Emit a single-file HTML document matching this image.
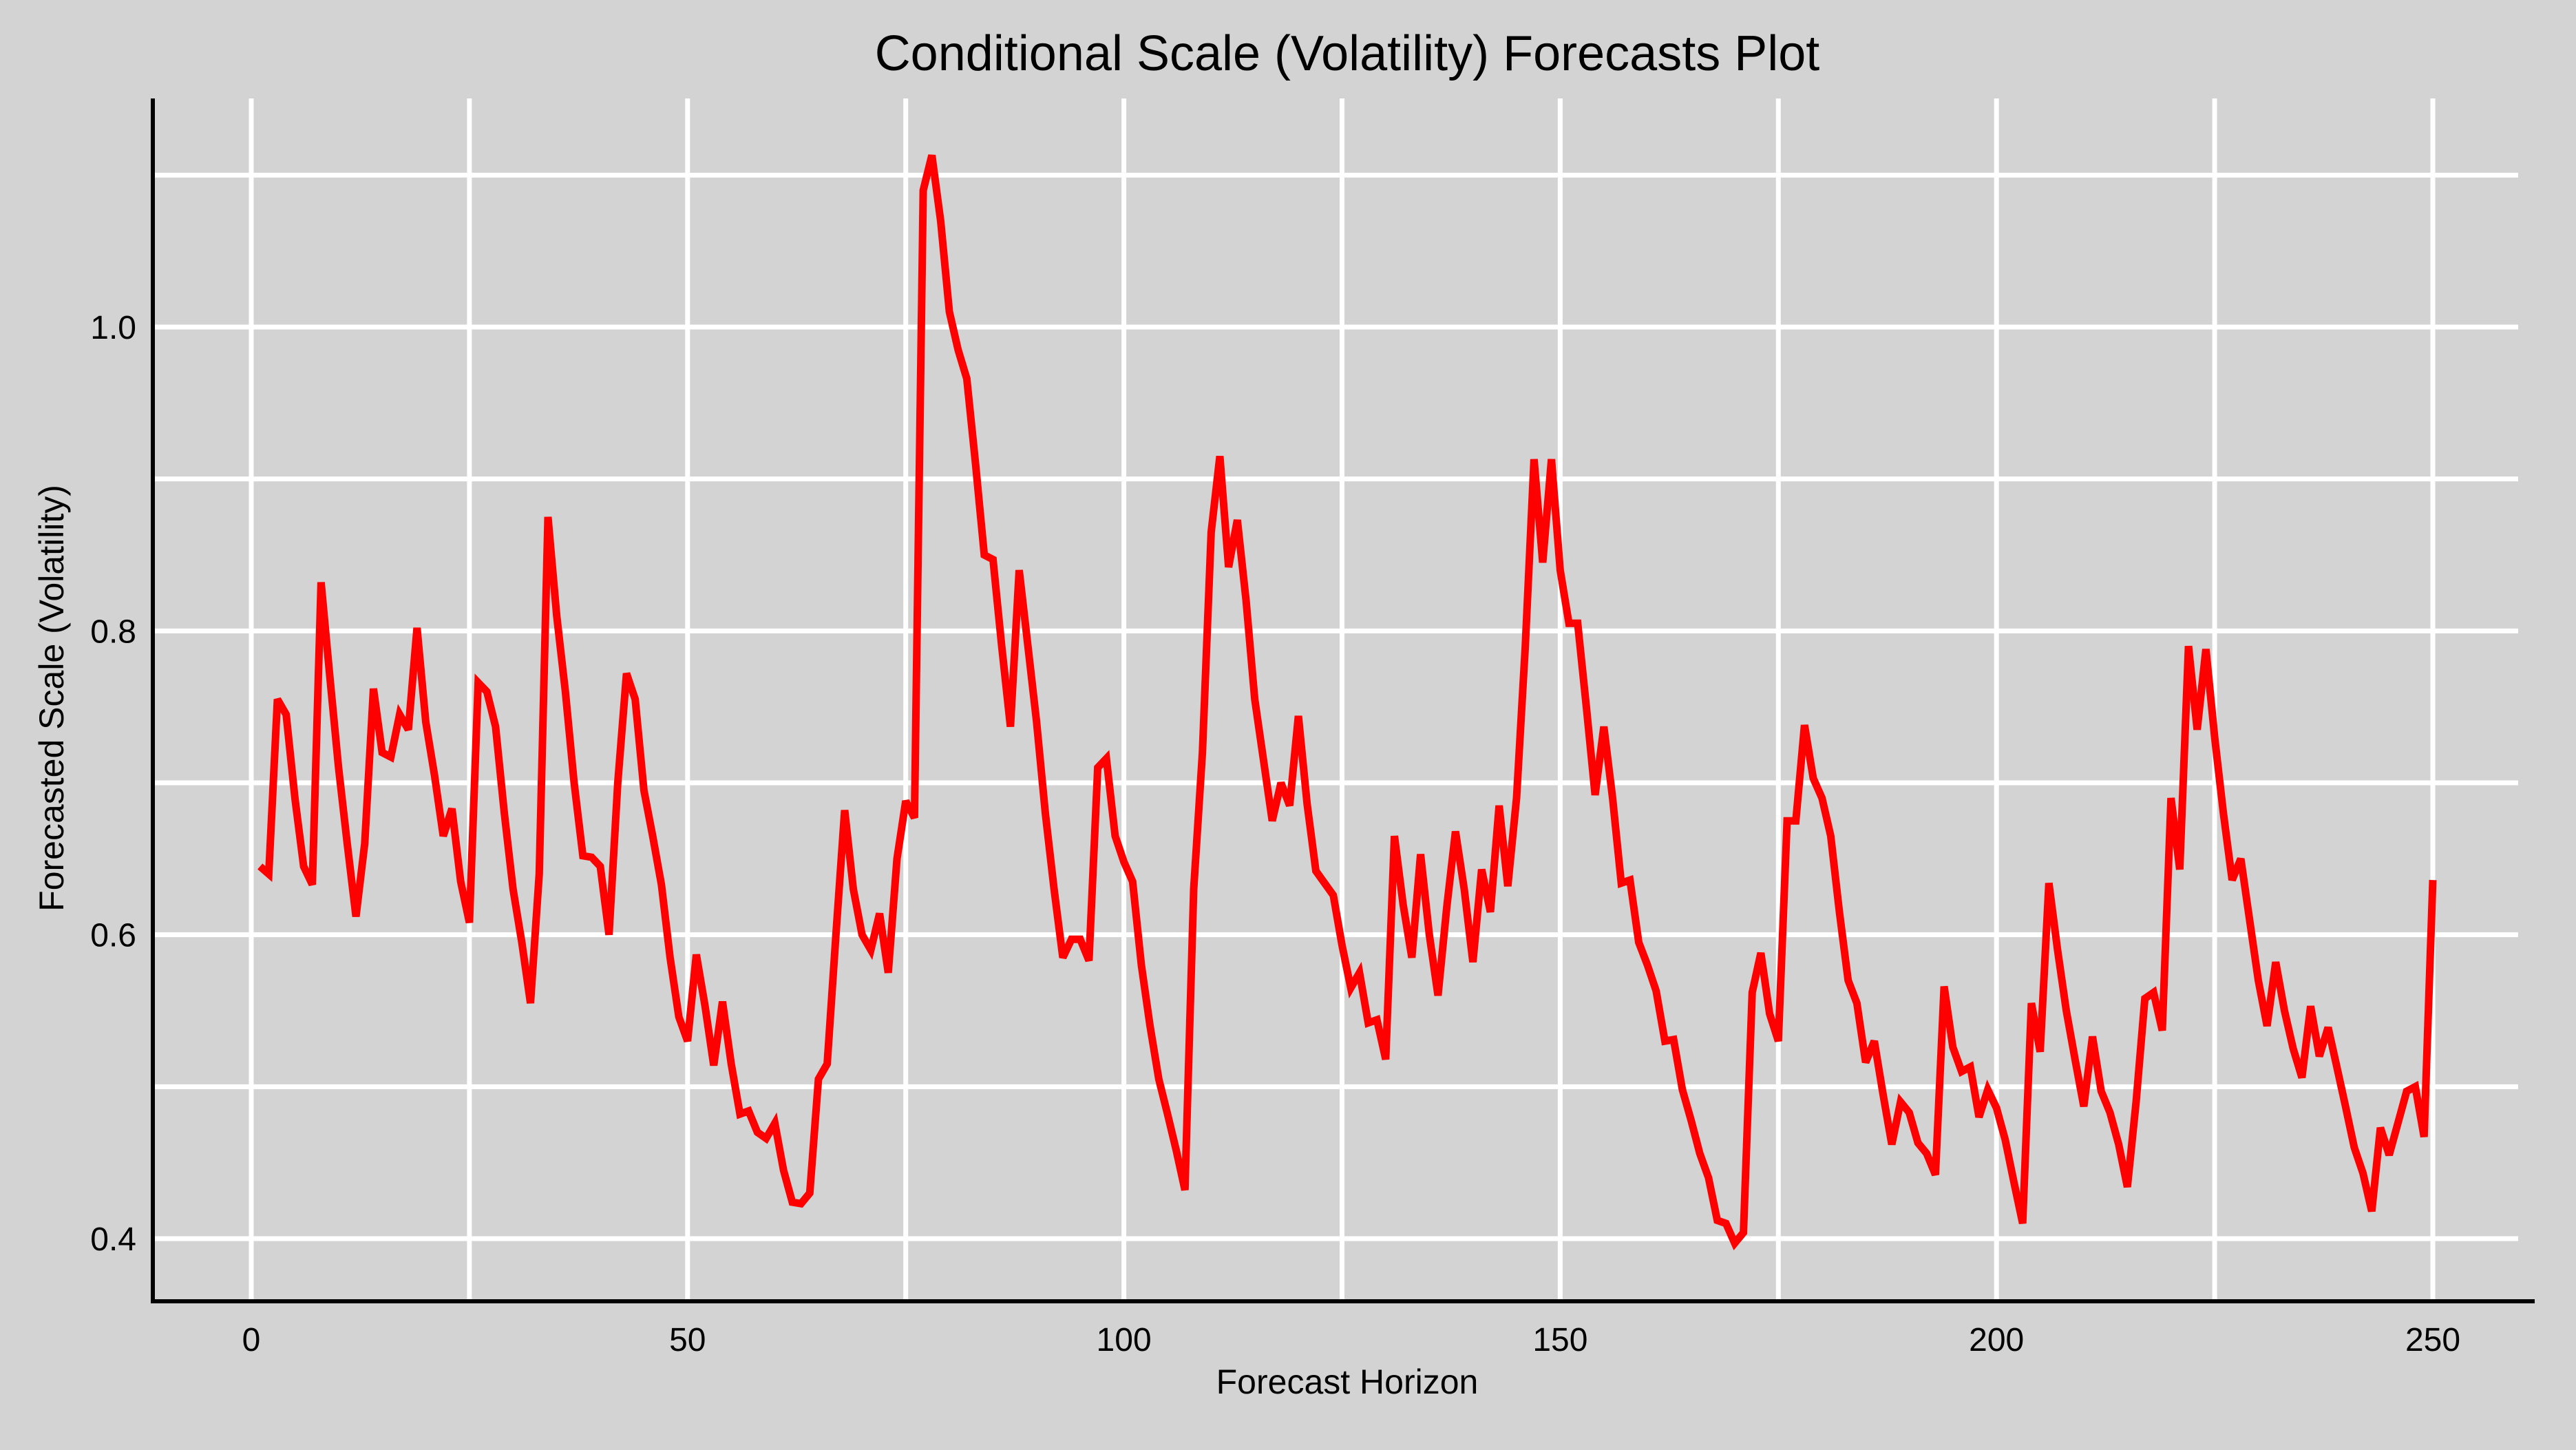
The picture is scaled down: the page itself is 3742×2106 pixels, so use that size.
<!DOCTYPE html>
<html><head><meta charset="utf-8"><style>
html,body{margin:0;padding:0;background:#d3d3d3;}
svg{display:block;font-family:"Liberation Sans",Arial,sans-serif;}
</style></head><body>
<svg id="chart" width="3742" height="2106" viewBox="0 0 3742 2106" xmlns="http://www.w3.org/2000/svg">
<rect x="0" y="0" width="3742" height="2106" fill="#d3d3d3"/>
<g id="grid"></g>
<g id="series"></g>
<line x1="222" y1="143" x2="222" y2="1893" stroke="#000" stroke-width="6"/>
<line x1="219" y1="1890" x2="3682" y2="1890" stroke="#000" stroke-width="6"/>
<g id="xticks"></g>
<g id="yticks"></g>
<text x="1957" y="102" font-size="72" text-anchor="middle" fill="#000">Conditional Scale (Volatility) Forecasts Plot</text>
<text x="1957" y="2024" font-size="50" text-anchor="middle" fill="#000">Forecast Horizon</text>
<text x="0" y="0" font-size="50" text-anchor="middle" fill="#000" transform="translate(92,1014) rotate(-90)">Forecasted Scale (Volatility)</text>
</svg>
<script>
const horizons = Array.from({length:250},(_,i)=>i+1);
const values = [0.645,0.640,0.755,0.745,0.69,0.645,0.633,0.832,0.77,0.71,0.66,0.612,0.66,0.762,0.72,0.717,0.745,0.735,0.802,0.74,0.705,0.665,0.683,0.635,0.608,0.766,0.76,0.737,0.68,0.63,0.595,0.555,0.64,0.875,0.81,0.76,0.70,0.652,0.651,0.645,0.60,0.70,0.772,0.755,0.695,0.665,0.633,0.585,0.546,0.53,0.587,0.553,0.514,0.556,0.515,0.482,0.484,0.47,0.466,0.476,0.445,0.424,0.423,0.43,0.505,0.515,0.60,0.682,0.63,0.60,0.59,0.614,0.575,0.65,0.688,0.677,1.09,1.113,1.07,1.01,0.985,0.966,0.91,0.85,0.847,0.79,0.737,0.84,0.79,0.74,0.68,0.63,0.585,0.597,0.597,0.583,0.71,0.716,0.665,0.648,0.635,0.58,0.54,0.505,0.482,0.458,0.432,0.63,0.72,0.865,0.915,0.842,0.873,0.82,0.755,0.715,0.675,0.70,0.685,0.744,0.686,0.642,0.634,0.626,0.593,0.565,0.575,0.542,0.544,0.518,0.665,0.62,0.585,0.653,0.60,0.56,0.618,0.668,0.63,0.582,0.643,0.615,0.685,0.632,0.69,0.79,0.913,0.845,0.913,0.84,0.805,0.805,0.75,0.692,0.737,0.69,0.634,0.636,0.595,0.58,0.563,0.53,0.531,0.498,0.478,0.456,0.44,0.412,0.41,0.397,0.404,0.562,0.588,0.548,0.53,0.675,0.675,0.738,0.703,0.69,0.665,0.615,0.57,0.555,0.516,0.53,0.495,0.462,0.49,0.483,0.463,0.456,0.442,0.566,0.526,0.51,0.513,0.48,0.498,0.486,0.465,0.437,0.41,0.555,0.523,0.634,0.59,0.55,0.518,0.487,0.533,0.497,0.483,0.462,0.434,0.49,0.558,0.562,0.537,0.69,0.643,0.79,0.735,0.788,0.73,0.68,0.636,0.65,0.61,0.57,0.54,0.582,0.55,0.525,0.506,0.553,0.52,0.539,0.513,0.487,0.46,0.443,0.418,0.473,0.455,0.476,0.497,0.5,0.467,0.636];
const xTickLabels = [0,50,100,150,200,250];
const xGridValues = [0,25,50,75,100,125,150,175,200,225,250];
const yTickLabels = [0.4,0.6,0.8,1.0];
const yGridValues = [0.4,0.5,0.6,0.7,0.8,0.9,1.0,1.1];

const NS='http://www.w3.org/2000/svg';
const xs = v => 365 + v*(3534-365)/250;
const ys = v => 475 + (1.0-v)*(1799-475)/0.6;
function mk(tag, attrs, parent){const e=document.createElementNS(NS,tag);for(const k in attrs)e.setAttribute(k,attrs[k]);parent.appendChild(e);return e;}

const grid=document.getElementById('grid');
xGridValues.forEach(v=>{
  const l=mk('line',{x1:xs(v),x2:xs(v),y1:143,y2:1890,stroke:'#fff','stroke-width':7},grid);
  
  
});
yGridValues.forEach(v=>{
  const l=mk('line',{x1:222,x2:3658,y1:ys(v),y2:ys(v),stroke:'#fff','stroke-width':7},grid);
  
  
});

const series=document.getElementById('series');
const pts=values.map((v,i)=>xs(horizons[i]).toFixed(1)+','+ys(v).toFixed(1)).join(' ');
const pl=mk('polyline',{points:pts,fill:'none',stroke:'#ff0000','stroke-width':11,'stroke-linejoin':'miter','stroke-miterlimit':3},series);



const xt=document.getElementById('xticks');
xTickLabels.forEach(v=>{
  const t=mk('text',{x:xs(v),y:1962,'font-size':48,'text-anchor':'middle',fill:'#000'},xt);
  t.textContent=String(v);
  
  
});
const yt=document.getElementById('yticks');
yTickLabels.forEach(v=>{
  const t=mk('text',{x:198,y:ys(v)+17,'font-size':48,'text-anchor':'end',fill:'#000'},yt);
  t.textContent=v.toFixed(1);
  
  
});
</script>
</body></html>
